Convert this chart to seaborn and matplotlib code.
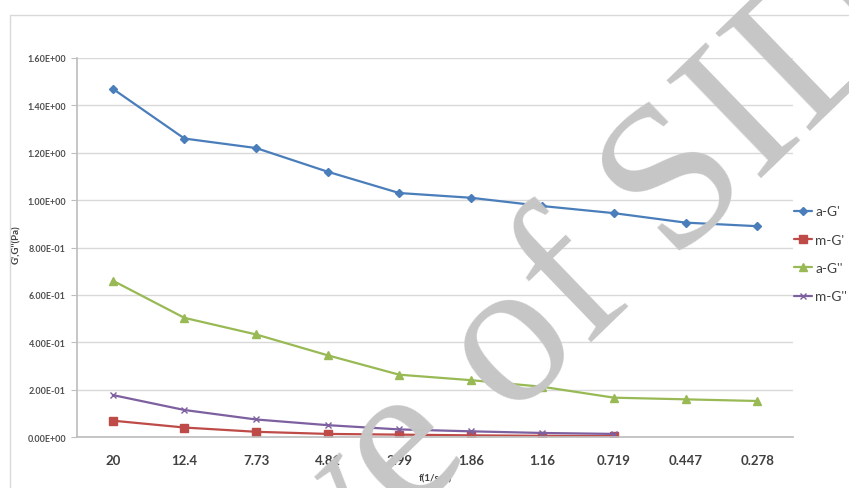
import numpy as np
import pandas as pd
import matplotlib
matplotlib.use("Agg")
import matplotlib.pyplot as plt
import matplotlib.patches as mpatches
from matplotlib.ticker import FuncFormatter, MultipleLocator
import seaborn as sns

# frequency categories (plotted as equally spaced categories, like the Excel chart)
freq_labels = ["20", "12.4", "7.73", "4.81", "2.99", "1.86", "1.16", "0.719", "0.447", "0.278"]

a_G1 = [1.47, 1.26, 1.22, 1.12, 1.03, 1.01, 0.975, 0.945, 0.905, 0.89]
m_G1 = [0.069, 0.040, 0.022, 0.013, 0.010, 0.007, 0.005, 0.004]
a_G2 = [0.66, 0.503, 0.433, 0.345, 0.263, 0.240, 0.212, 0.166, 0.159, 0.152]
m_G2 = [0.177, 0.114, 0.074, 0.050, 0.032, 0.024, 0.017, 0.013]

series = [
    ("a-G'",  a_G1, "#4A7EBB", "D", 4),
    ("m-G'",  m_G1, "#BE4B48", "s", 5.5),
    ("a-G''", a_G2, "#98B954", "^", 5.5),
    ("m-G''", m_G2, "#7D60A0", "x", 5),
]

sns.set_theme(style="white")
plt.rcParams["font.family"] = ["Lato", "DejaVu Sans"]

fig = plt.figure(figsize=(8.49, 4.89), dpi=100)
W, H = 849, 489
ax = fig.add_axes([77 / W, 1 - 438 / H, (793 - 77) / W, (438 - 59) / H])

# light chart-area border
fig.patches.append(mpatches.Rectangle((10 / W, -0.05), 1.0, 1 - 16 / H + 0.05,
                                      transform=fig.transFigure, fill=False,
                                      edgecolor="#d9d9d9", linewidth=1.0))

for label, vals, color, marker, ms in series:
    df = pd.DataFrame({"x": np.arange(len(vals)), "y": vals})
    sns.lineplot(data=df, x="x", y="y", ax=ax, color=color, marker=marker,
                 markersize=ms, markeredgecolor=color, markeredgewidth=1.0,
                 linewidth=1.6, label=label)

ax.set_xlim(-0.5, len(freq_labels) - 0.5)
ax.set_ylim(0, 1.6)
ax.yaxis.set_major_locator(MultipleLocator(0.2))
ax.yaxis.set_major_formatter(FuncFormatter(lambda v, p: f"{v:.2E}"))
ax.set_xticks(np.arange(len(freq_labels)))
ax.set_xticklabels(freq_labels, fontsize=9.5, fontweight="bold", color="#404040")
ax.tick_params(axis="y", labelsize=6.5, labelcolor="#505050", length=4, width=0.8,
               color="#bfbfbf", direction="out", left=True, pad=4)
ax.tick_params(axis="x", length=0, pad=12)
for t in ax.get_yticklabels():
    t.set_fontweight("bold")

ax.grid(True, axis="y", color="#d9d9d9", linewidth=1.0)
ax.grid(False, axis="x")
for s in ["top", "right"]:
    ax.spines[s].set_visible(False)
ax.spines["left"].set_color("#bfbfbf")
ax.spines["bottom"].set_color("#bfbfbf")

ax.set_xlabel("f(1/sec)", fontsize=7, fontweight="bold", color="#404040")
ax.set_ylabel("G',G''(Pa)", fontsize=7, fontweight="bold", color="#404040")
ax.xaxis.set_label_coords(0.5, -(474 - 438) / 379)
ax.yaxis.set_label_coords(-(77 - 21) / 716, 0.51)

ax.legend(loc="center left", bbox_to_anchor=(794 / W, 1 - 255 / H),
          bbox_transform=fig.transFigure, frameon=False, fontsize=9.8,
          handlelength=1.35, handletextpad=0.2, labelspacing=1.2,
          borderaxespad=0, borderpad=0, labelcolor="#404040")

# archive watermark
fig.text(418 / W, 1 - 440 / H, "Archive of SID", rotation=44, rotation_mode="anchor",
         ha="center", va="center", fontsize=150, family="Liberation Serif",
         color="#c6c6c6", zorder=10)

fig.savefig("out.png", dpi=100)
